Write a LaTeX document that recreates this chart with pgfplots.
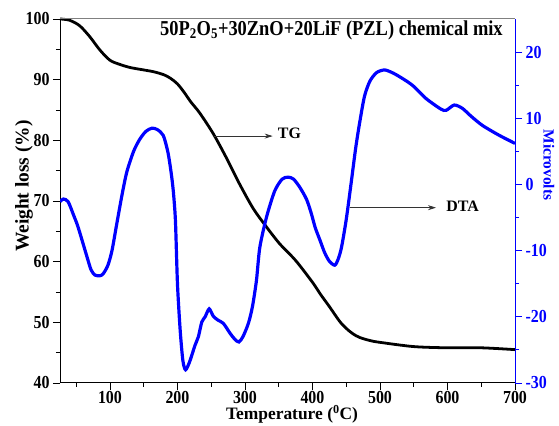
\documentclass[border=0pt]{standalone}
\usepackage{fontspec}
\setmainfont{Liberation Serif}
\usepackage{graphicx}
\usepackage{pgfplots}
\pgfplotsset{compat=1.18}
\usetikzlibrary{arrows.meta}
\definecolor{dtablue}{RGB}{0,0,255}
\newcommand{\tlfont}{\fontsize{16}{16}\selectfont\bfseries}
\newcommand{\tl}{\pgfmathtruncatemacro\tlv{round(\tick)}\scalebox{1}[1.15]{\tlfont\tlv}}
\begin{document}
\begin{tikzpicture}
\pgfplotsset{
  common/.style={
    width=455bp, height=364bp, scale only axis,
    xmin=26, xmax=700,
    tick align=outside,
    major tick length=7bp, minor tick length=4bp,
    ticklabel style={font=\tlfont},
  }
}
\begin{axis}[
  common,
  name=ax,
  axis x line*=bottom, axis y line*=left,
  axis line style={line width=1pt, -},
  ymin=40, ymax=100,
  xtick={100,200,...,700},
  minor xtick={50,150,...,650},
  ytick={40,50,...,100},
  minor ytick={45,55,...,95},
  major tick style={line width=0.9pt, black},
  minor tick style={line width=0.9pt, black},
  xticklabel={\tl},
  yticklabel={\tl},
  xticklabel style={inner sep=1pt},
  xlabel={Temperature (\textsuperscript{0}C)},
  xlabel style={at={(rel axis cs:0.51,-0.1005)}, anchor=base, inner sep=1pt, font=\fontsize{17.5}{17.5}\selectfont\bfseries},
  ylabel={Weight loss (\%)},
  ylabel style={at={(rel axis cs:-0.079,0.541)}, anchor=center, rotate=0, font=\fontsize{19.5}{19.5}\selectfont\bfseries},
  clip=false,
]
\addplot[black, line width=2.8pt, smooth, tension=0.5] coordinates {
(26,100.0) (40,99.8) (55,98.9) (70,97.1) (85,94.9) (100,93.2) (115,92.5) (130,92.0)
(150,91.6) (165,91.3) (180,90.8) (190,90.2) (200,89.3) (210,87.9) (220,86.3) (233,84.5) (253,81.1) (273,77.0)
(292,72.8) (312,68.8) (330,66.0) (351,63.0) (375,60.2) (400,56.6) (412,54.6)
(425,52.6) (440,50.2) (450,49.0) (460,48.1) (470,47.5) (485,47.0) (500,46.7)
(550,46.0) (600,45.8) (650,45.8) (700,45.5)
};
\draw[gray, line width=1pt] (rel axis cs:0,1) -- (rel axis cs:1,1);
\node[anchor=base, font=\fontsize{18.5}{18.5}\selectfont\bfseries] at (axis cs:428,97.2)
  {\scalebox{1}[1.15]{50P\textsubscript{2}O\textsubscript{5}+30ZnO+20LiF (PZL) chemical mix}};
\draw[-{Stealth[length=8bp,width=5bp]}, line width=0.8pt, black!80] (axis cs:252.6,80.7) -- (axis cs:341,80.7);
\node[anchor=base west, inner sep=0pt, font=\fontsize{16}{16}\selectfont\bfseries] at (axis cs:348.5,80.35) {TG};
\draw[-{Stealth[length=8bp,width=5bp]}, line width=0.8pt, black!80] (axis cs:455,68.9) -- (axis cs:583,68.9);
\node[anchor=base west, inner sep=0pt, font=\fontsize{16}{16}\selectfont\bfseries] at (axis cs:598,68.2) {DTA};
\end{axis}
\begin{axis}[
  common,
  axis x line=none, axis y line*=right,
  axis line style={line width=1pt, dtablue, -},
  ymin=-30, ymax=25,
  ytick={-30,-20,...,20},
  minor ytick={-25,-15,...,15},
  major tick style={line width=0.9pt, dtablue},
  minor tick style={line width=0.9pt, dtablue},
  yticklabel style={text=dtablue},
  yticklabel={\tl},
  ylabel={Microvolts},
  ylabel style={at={(rel axis cs:1.0747,0.599)}, anchor=center, rotate=180, text=dtablue, font=\fontsize{15.5}{15.5}\selectfont\bfseries},
]
\addplot[dtablue, line width=3.2pt, smooth, tension=0.45] coordinates {
(26,-2.6) (31,-2.2) (38,-2.6) (46,-4.6) (52,-6.2) (58,-8.2) (65,-10.6) (72,-12.9)
(78,-13.7) (85,-13.8) (90,-13.5) (97,-12.2) (103,-10.0) (110,-6.0) (118,-1.5)
(125,1.9) (135,5.0) (144,6.8) (153,8.0) (162,8.5) (170,8.3) (179,7.4)
(186,4.8) (191,1.5) (194,-1.2) (197,-5.5) (200,-15.0) (204,-22.0) (208,-26.6)
(212,-28.0) (218,-26.8) (226,-24.3) (231,-23.0) (236,-20.8) (241,-20.0)
(247,-18.8) (253,-19.9) (260,-20.5) (268,-21.0) (278,-22.5) (285,-23.4)
(291,-23.8) (297,-23.0) (305,-21.0) (311,-18.5) (317,-14.5) (322,-9.5)
(332,-4.9) (344,-1.0) (355,0.8) (364,1.1) (372,0.8) (381,-0.4) (391,-2.2)
(398,-4.3) (404,-6.5) (411,-8.4) (418,-10.3) (425,-11.6) (433,-12.2)
(438,-11.3) (443,-9.5) (450,-5.3) (457,0.0) (464,5.5) (470,9.4) (477,13.3)
(485,15.6) (495,16.9) (507,17.3) (520,16.8) (535,15.9) (549,14.9) (568,13.0)
(590,11.4) (598,11.2) (610,12.0) (622,11.5) (635,10.3) (652,8.9) (677,7.4) (700,6.2)
};
\end{axis}
\path[use as bounding box] ([xshift=-60bp,yshift=-43bp]ax.south west) rectangle ([xshift=44bp,yshift=19bp]ax.north east);
\end{tikzpicture}
\end{document}
